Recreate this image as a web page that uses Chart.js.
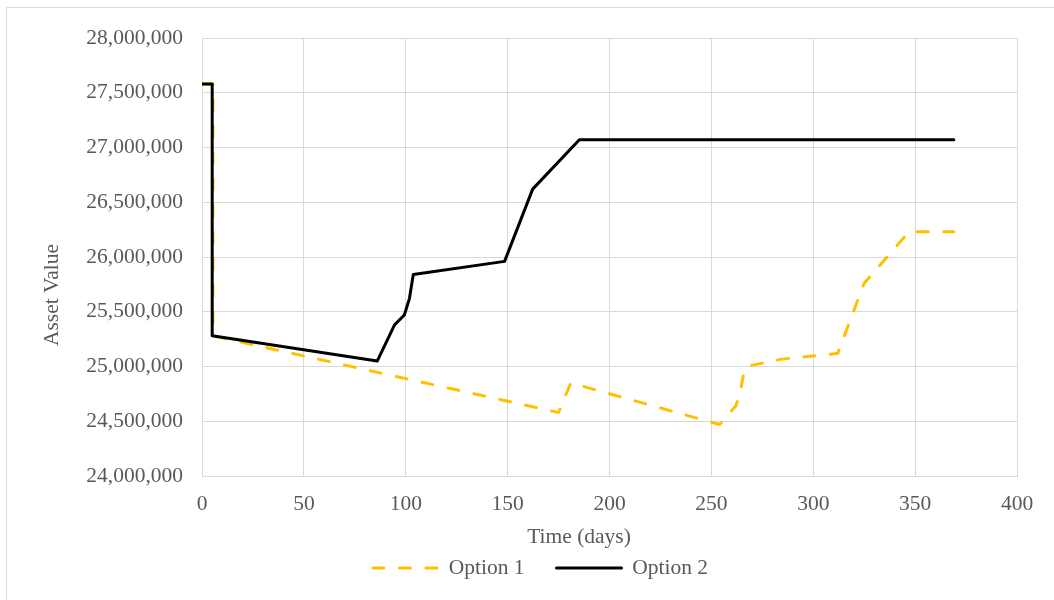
<!DOCTYPE html>
<html>
<head>
<meta charset="utf-8">
<title>Asset Value over Time</title>
<script src="https://cdn.jsdelivr.net/npm/chart.js"></script>
<style>
  html, body { margin: 0; padding: 0; background: #fff; }
  #wrap { position: relative; width: 1054px; height: 600px; }
</style>
</head>
<body>
<div id="wrap"><canvas id="asset-chart"></canvas></div>
<script>
// Option 1: days and asset values
const option1Days = [0, 5.4, 5.4, 175, 181, 254, 262, 264, 266, 267, 284, 312, 325, 347, 369];
const option1Values = [27580000, 27580000, 25280000, 24580000, 24850000, 24470000, 24640000,
  24750000, 24950000, 25000000, 25065000, 25120000, 25760000, 26230000, 26230000];

// Option 2: days and asset values
const option2Days = [0, 5, 5, 86, 94.5, 99.3, 101.8, 103.7, 148.5, 162.3, 185.2, 369];
const option2Values = [27580000, 27580000, 25280000, 25050000, 25380000, 25470000, 25620000,
  25840000, 25960000, 26620000, 27070000, 27070000];

const seriesLabels = ['Option 1', 'Option 2'];
const xTicks = [0, 50, 100, 150, 200, 250, 300, 350, 400];
const yTicks = [24000000, 24500000, 25000000, 25500000, 26000000, 26500000, 27000000, 27500000, 28000000];
const xTitle = 'Time (days)';
const yTitle = 'Asset Value';

const TEXT = '#595959';
const GRID = '#d9d9d9';
const FONT = "'Liberation Serif', 'Times New Roman', serif";
const FONT_SIZE = 21.5;

const toPoints = (days, values) => days.map((d, i) => ({ x: d, y: values[i] }));

// light frame along the top and left edges of the canvas
const framePlugin = {
  id: 'frame',
  beforeDraw(chart) {
    const ctx = chart.ctx;
    ctx.save();
    ctx.strokeStyle = GRID;
    ctx.lineWidth = 1;
    ctx.beginPath();
    ctx.moveTo(6.5, chart.height);
    ctx.lineTo(6.5, 7.5);
    ctx.lineTo(chart.width, 7.5);
    ctx.stroke();
    ctx.restore();
  }
};

// axis titles sit slightly off the plot centre, so place them by hand
const axisTitlePlugin = {
  id: 'axisTitles',
  afterDraw(chart) {
    const ctx = chart.ctx;
    ctx.save();
    ctx.fillStyle = TEXT;
    ctx.font = `${FONT_SIZE}px ${FONT}`;
    ctx.textAlign = 'center';
    ctx.textBaseline = 'middle';
    ctx.fillText(xTitle, 579, 537);
    ctx.translate(52, 295);
    ctx.rotate(-Math.PI / 2);
    ctx.fillText(yTitle, 0, 0);
    ctx.restore();
  }
};

// move the legend a little up and to the left of the canvas centre
const legendPlacePlugin = {
  id: 'legendPlace',
  afterLayout(chart) {
    const lg = chart.legend;
    if (!lg) return;
    const top = 568 - 32 - FONT_SIZE / 2;
    lg.top = top;
    lg.bottom = top + lg.height;
    lg.left = 27;
    lg.right = 1054;
  }
};

const ctx = document.getElementById('asset-chart').getContext('2d');
new Chart(ctx, {
  type: 'line',
  data: {
    datasets: [{
      label: seriesLabels[0],
      data: toPoints(option1Days, option1Values),
      borderColor: '#FFC000',
      backgroundColor: '#FFC000',
      borderWidth: 3,
      borderDash: [11, 15.5],
      borderCapStyle: 'round',
      order: 1,
    }, {
      label: seriesLabels[1],
      data: toPoints(option2Days, option2Values),
      borderColor: '#000000',
      backgroundColor: '#000000',
      borderWidth: 3,
      borderCapStyle: 'round',
      order: 0,
    }]
  },
  options: {
    responsive: true,
    maintainAspectRatio: false,
    animation: false,
    devicePixelRatio: 1,
    elements: {
      point: { radius: 0, hoverRadius: 0 },
      line: { tension: 0, borderJoinStyle: 'round', fill: false }
    },
    layout: { padding: { top: 38, right: 37, left: 0, bottom: 0 } },
    plugins: {
      tooltip: { enabled: false },
      legend: {
        position: 'bottom',
        labels: {
          usePointStyle: true,
          pointStyle: 'line',
          pointStyleWidth: 65,
          padding: 32,
          color: TEXT,
          font: { family: FONT, size: FONT_SIZE },
          sort: (a, b) => a.datasetIndex - b.datasetIndex,
          // point-style items don't carry the dataset dash, so copy it over
          generateLabels: chart => {
            const items = Chart.defaults.plugins.legend.labels.generateLabels(chart);
            items.forEach(it => {
              const ds = chart.data.datasets[it.datasetIndex];
              it.lineDash = ds.borderDash || [];
              it.lineCap = 'round';
              it.lineWidth = ds.borderWidth;
              it.strokeStyle = ds.borderColor;
            });
            return items;
          }
        }
      }
    },
    scales: {
      x: {
        type: 'linear',
        min: xTicks[0],
        max: xTicks[xTicks.length - 1],
        afterBuildTicks: s => { s.ticks = xTicks.map(v => ({ value: v })); },
        afterFit: s => {
          const lgH = s.chart.legend ? s.chart.legend.height : 0;
          s.height = 600 - 476 - lgH;
        },
        grid: { color: GRID, lineWidth: 1, drawTicks: false },
        border: { color: GRID, width: 1 },
        ticks: {
          padding: 15,
          color: TEXT,
          font: { family: FONT, size: FONT_SIZE },
          maxRotation: 0,
          callback: v => v.toString()
        }
      },
      y: {
        min: yTicks[0],
        max: yTicks[yTicks.length - 1],
        afterBuildTicks: s => { s.ticks = yTicks.map(v => ({ value: v })); },
        afterFit: s => { s.width = 202; },
        grid: { color: GRID, lineWidth: 1, drawTicks: false },
        border: { color: GRID, width: 1 },
        ticks: {
          padding: 19,
          color: TEXT,
          font: { family: FONT, size: FONT_SIZE },
          callback: v => v.toLocaleString('en-US')
        }
      }
    }
  },
  plugins: [framePlugin, axisTitlePlugin, legendPlacePlugin]
});
</script>
</body>
</html>
